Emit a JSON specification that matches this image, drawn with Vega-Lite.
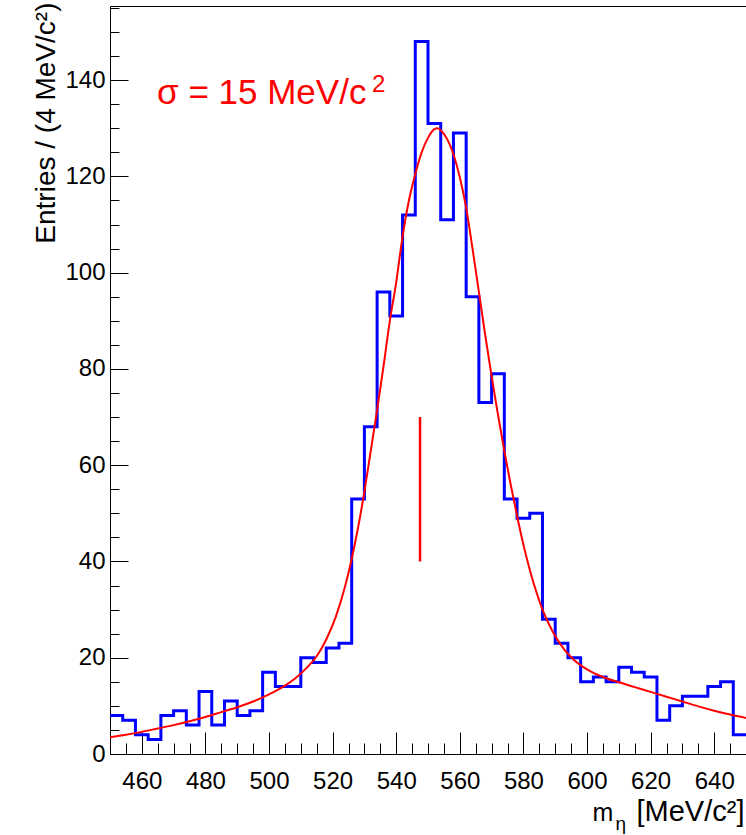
{
  "$schema": "https://vega.github.io/schema/vega-lite/v6.json",
  "width": 636,
  "height": 748,
  "autosize": {"type": "none"},
  "padding": {"left": 110, "top": 6, "right": 0, "bottom": 81},
  "background": "white",
  "config": {
    "view": {"stroke": null},
    "font": "Liberation Sans",
    "axis": {
      "grid": false,
      "domainColor": "black",
      "domainWidth": 1,
      "tickColor": "black",
      "tickWidth": 1,
      "labelColor": "black",
      "titleColor": "black",
      "labelFont": "Liberation Sans",
      "titleFont": "Liberation Sans",
      "titleFontWeight": "normal",
      "labelFontWeight": "normal"
    }
  },
  "datasets": {
    "hist": [
      {"m": 450, "n": 8}, {"m": 454, "n": 7}, {"m": 458, "n": 4}, {"m": 462, "n": 3},
      {"m": 466, "n": 8}, {"m": 470, "n": 9}, {"m": 474, "n": 6}, {"m": 478, "n": 13},
      {"m": 482, "n": 6}, {"m": 486, "n": 11}, {"m": 490, "n": 8}, {"m": 494, "n": 9},
      {"m": 498, "n": 17}, {"m": 502, "n": 14}, {"m": 506, "n": 14}, {"m": 510, "n": 20},
      {"m": 514, "n": 19}, {"m": 518, "n": 22}, {"m": 522, "n": 23}, {"m": 526, "n": 53},
      {"m": 530, "n": 68}, {"m": 534, "n": 96}, {"m": 538, "n": 91}, {"m": 542, "n": 112},
      {"m": 546, "n": 148}, {"m": 550, "n": 131}, {"m": 554, "n": 111}, {"m": 558, "n": 129},
      {"m": 562, "n": 95}, {"m": 566, "n": 73}, {"m": 570, "n": 79}, {"m": 574, "n": 53},
      {"m": 578, "n": 49}, {"m": 582, "n": 50}, {"m": 586, "n": 28}, {"m": 590, "n": 23},
      {"m": 594, "n": 20}, {"m": 598, "n": 15}, {"m": 602, "n": 16}, {"m": 606, "n": 15},
      {"m": 610, "n": 18}, {"m": 614, "n": 17}, {"m": 618, "n": 16}, {"m": 622, "n": 7},
      {"m": 626, "n": 10}, {"m": 630, "n": 12}, {"m": 634, "n": 12}, {"m": 638, "n": 14},
      {"m": 642, "n": 15}, {"m": 646, "n": 4}, {"m": 650, "n": 4}
    ],
    "fit": [
      {"m": 450, "v": 3.5}, {"m": 455, "v": 4.0}, {"m": 460, "v": 4.6}, {"m": 465, "v": 5.3},
      {"m": 470, "v": 6.0}, {"m": 475, "v": 6.8}, {"m": 480, "v": 7.7}, {"m": 485, "v": 8.7},
      {"m": 490, "v": 9.7}, {"m": 495, "v": 10.9}, {"m": 500, "v": 12.4}, {"m": 504, "v": 13.8},
      {"m": 508, "v": 15.6}, {"m": 512, "v": 18.0}, {"m": 515, "v": 20.3}, {"m": 518, "v": 23.8},
      {"m": 521, "v": 28.5}, {"m": 524, "v": 35.0}, {"m": 526, "v": 40.5}, {"m": 528, "v": 47.0},
      {"m": 530, "v": 54.5}, {"m": 532, "v": 63.0}, {"m": 534, "v": 71.5}, {"m": 536, "v": 80.5},
      {"m": 538, "v": 90.0}, {"m": 540, "v": 98.0}, {"m": 542, "v": 107.5}, {"m": 544, "v": 115.0},
      {"m": 546, "v": 120.5}, {"m": 548, "v": 125.0}, {"m": 550, "v": 128.0}, {"m": 552, "v": 129.8},
      {"m": 553, "v": 130.0}, {"m": 554, "v": 129.6}, {"m": 556, "v": 127.8}, {"m": 558, "v": 124.6},
      {"m": 560, "v": 119.8}, {"m": 562, "v": 113.5}, {"m": 564, "v": 105.0}, {"m": 566, "v": 96.0},
      {"m": 568, "v": 87.0}, {"m": 570, "v": 78.5}, {"m": 572, "v": 70.5}, {"m": 574, "v": 63.0},
      {"m": 576, "v": 56.0}, {"m": 578, "v": 49.5}, {"m": 580, "v": 43.5}, {"m": 582, "v": 38.3},
      {"m": 584, "v": 33.8}, {"m": 586, "v": 30.0}, {"m": 588, "v": 27.0}, {"m": 590, "v": 24.5},
      {"m": 593, "v": 21.6}, {"m": 596, "v": 19.5}, {"m": 600, "v": 17.6}, {"m": 605, "v": 16.0},
      {"m": 610, "v": 14.9}, {"m": 615, "v": 13.9}, {"m": 620, "v": 12.9}, {"m": 625, "v": 11.9},
      {"m": 630, "v": 10.9}, {"m": 635, "v": 9.9}, {"m": 640, "v": 9.0}, {"m": 645, "v": 8.2},
      {"m": 650, "v": 7.5}
    ],
    "marker": [{"m": 547.5, "lo": 40, "hi": 70}],
    "label": [{"m": 464.8, "v": 135.05, "t": "σ = 15 MeV/c"}],
    "sup": [{"m": 532.4, "v": 137.6, "t": "2"}]
  },
  "resolve": {"axis": {"x": "independent", "y": "independent"}},
  "layer": [
    {
      "data": {"name": "hist"},
      "mark": {"type": "line", "interpolate": "step-after", "color": "#0000ff", "strokeWidth": 3, "strokeJoin": "miter", "clip": true},
      "encoding": {
        "x": {
          "field": "m", "type": "quantitative",
          "scale": {"domain": [450, 650], "nice": false, "zero": false},
          "axis": {
            "orient": "bottom", "values": [460, 480, 500, 520, 540, 560, 580, 600, 620, 640],
            "ticks": false, "tickSize": 0, "domain": true, "labelFontSize": 24, "labelPadding": 15,
            "title": "m", "titleFontSize": 25, "titleX": 482, "titleY": 66, "titleAlign": "left",
            "titleBaseline": "alphabetic"
          }
        },
        "y": {
          "field": "n", "type": "quantitative",
          "scale": {"domain": [0, 155.4], "nice": false, "zero": true},
          "axis": {
            "orient": "left", "values": [0, 20, 40, 60, 80, 100, 120, 140],
            "ticks": false, "tickSize": 0, "domain": true, "labelFontSize": 24, "labelPadding": 5,
            "title": "Entries / (4 MeV/c²)", "titleFontSize": 28, "titleAngle": 270,
            "titleX": -56, "titleY": -4, "titleAlign": "right", "titleBaseline": "alphabetic"
          }
        }
      }
    },
    {
      "data": {"name": "fit"},
      "mark": {"type": "line", "interpolate": "monotone", "color": "#ff0000", "strokeWidth": 2, "clip": true},
      "encoding": {
        "x": {
          "field": "m", "type": "quantitative",
          "axis": {
            "orient": "bottom", "values": [460, 480, 500, 520, 540, 560, 580, 600, 620, 640],
            "labels": false, "domain": false, "ticks": true, "tickSize": -22, "title": null
          }
        },
        "y": {
          "field": "v", "type": "quantitative",
          "axis": {
            "orient": "left", "values": [0, 20, 40, 60, 80, 100, 120, 140],
            "labels": false, "domain": false, "ticks": true, "tickSize": -18, "title": null
          }
        }
      }
    },
    {
      "data": {"name": "marker"},
      "mark": {"type": "rule", "color": "#ff0000", "strokeWidth": 2.5},
      "encoding": {
        "x": {
          "field": "m", "type": "quantitative",
          "axis": {
            "orient": "bottom",
            "values": [450, 455, 460, 465, 470, 475, 480, 485, 490, 495, 500, 505, 510, 515, 520, 525, 530, 535, 540, 545, 550, 555, 560, 565, 570, 575, 580, 585, 590, 595, 600, 605, 610, 615, 620, 625, 630, 635, 640, 645],
            "labels": false, "domain": false, "ticks": true, "tickSize": -11,
            "title": "[MeV/c²]", "titleFontSize": 29, "titleX": 634, "titleY": 66, "titleAlign": "right",
            "titleBaseline": "alphabetic"
          }
        },
        "y": {
          "field": "lo", "type": "quantitative",
          "axis": {
            "orient": "left",
            "values": [5, 10, 15, 25, 30, 35, 45, 50, 55, 65, 70, 75, 85, 90, 95, 105, 110, 115, 125, 130, 135, 145, 150, 155],
            "labels": false, "domain": false, "ticks": true, "tickSize": -9, "title": null
          }
        },
        "y2": {"field": "hi"}
      }
    },
    {
      "data": {"name": "label"},
      "mark": {"type": "text", "color": "#ff0000", "fontSize": 35, "font": "Liberation Sans", "align": "left", "baseline": "alphabetic"},
      "encoding": {
        "x": {
          "field": "m", "type": "quantitative",
          "axis": {
            "orient": "top", "labels": false, "ticks": false, "domain": true,
            "title": "η", "titleFontSize": 19, "titleX": 505, "titleY": 823, "titleAlign": "left",
            "titleBaseline": "alphabetic"
          }
        },
        "y": {"field": "v", "type": "quantitative", "axis": null},
        "text": {"field": "t"}
      }
    },
    {
      "data": {"name": "sup"},
      "mark": {"type": "text", "color": "#ff0000", "fontSize": 24, "font": "Liberation Sans", "align": "left", "baseline": "alphabetic"},
      "encoding": {
        "x": {"field": "m", "type": "quantitative", "axis": null},
        "y": {"field": "v", "type": "quantitative", "axis": null},
        "text": {"field": "t"}
      }
    }
  ]
}
